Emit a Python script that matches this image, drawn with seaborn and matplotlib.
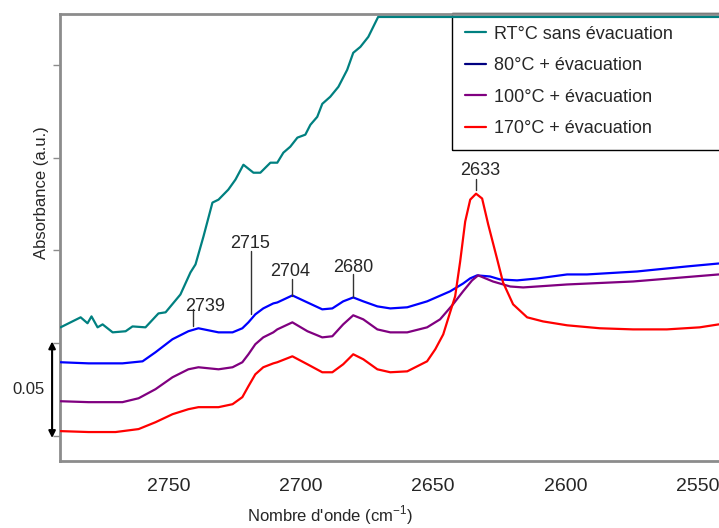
import pandas as pd
import matplotlib
matplotlib.use("Agg")
import matplotlib.pyplot as plt
import matplotlib.transforms as mtransforms
from matplotlib.lines import Line2D
import seaborn as sns

wn_rt = [2790.8, 2783.2, 2780.6, 2779.1, 2776.8, 2774.9, 2771.1, 2766.2, 2763.6, 2758.7,
         2753.8, 2751.1, 2745.5, 2741.7, 2739.8, 2736.8, 2733.4, 2731.1, 2727.4, 2724.7,
         2721.7, 2717.9, 2715.3, 2711.5, 2708.9, 2706.6, 2704.0, 2701.3, 2698.3, 2696.4,
         2693.8, 2691.9, 2688.9, 2685.8, 2682.5, 2680.2, 2677.5, 2674.5, 2670.8, 2542.1]
abs_rt = [0.0586, 0.0640, 0.0608, 0.0645, 0.0586, 0.0602, 0.0559, 0.0565, 0.0591, 0.0586,
          0.0661, 0.0667, 0.0763, 0.0882, 0.0925, 0.1075, 0.1258, 0.1274, 0.1328, 0.1382,
          0.1462, 0.1419, 0.1419, 0.1473, 0.1473, 0.1527, 0.1559, 0.1608, 0.1624, 0.1677,
          0.1720, 0.1790, 0.1828, 0.1882, 0.1973, 0.2065, 0.2097, 0.2151, 0.2258, 0.2258]

wn_80 = [2790.8, 2780.2, 2767.4, 2759.8, 2754.9, 2748.5, 2742.5, 2738.7, 2734.9, 2731.1,
         2725.8, 2722.1, 2719.8, 2717.2, 2714.2, 2710.4, 2708.9, 2703.2, 2697.5, 2691.9,
         2688.1, 2684.0, 2680.2, 2676.4, 2671.1, 2666.2, 2659.8, 2652.3, 2643.6, 2638.7,
         2636.0, 2633.4, 2628.5, 2624.7, 2618.3, 2610.8, 2599.4, 2591.9, 2573.0, 2554.2, 2542.1]
abs_80 = [0.0398, 0.0392, 0.0392, 0.0403, 0.0452, 0.0522, 0.0565, 0.0581, 0.0570, 0.0559,
          0.0559, 0.0581, 0.0613, 0.0656, 0.0688, 0.0715, 0.0720, 0.0758, 0.0720, 0.0683,
          0.0688, 0.0726, 0.0747, 0.0726, 0.0699, 0.0688, 0.0694, 0.0726, 0.0780, 0.0822,
          0.0850, 0.0866, 0.0860, 0.0844, 0.0839, 0.0849, 0.0871, 0.0871, 0.0887, 0.0914, 0.0930]

wn_100 = [2790.8, 2780.2, 2767.4, 2761.3, 2754.9, 2748.5, 2742.5, 2738.7, 2731.1, 2725.8,
          2722.1, 2719.8, 2717.2, 2714.2, 2710.4, 2708.9, 2703.2, 2697.5, 2691.9, 2688.1,
          2684.0, 2680.2, 2676.4, 2671.1, 2666.2, 2659.8, 2652.3, 2647.4, 2642.5, 2638.7,
          2635.3, 2633.0, 2627.4, 2620.9, 2616.0, 2599.4, 2574.5, 2542.1]
abs_100 = [0.0188, 0.0183, 0.0183, 0.0204, 0.0253, 0.0317, 0.0360, 0.0371, 0.0360, 0.0371,
           0.0398, 0.0441, 0.0495, 0.0532, 0.0559, 0.0575, 0.0613, 0.0565, 0.0532, 0.0538,
           0.0602, 0.0651, 0.0629, 0.0575, 0.0559, 0.0559, 0.0586, 0.0629, 0.0710, 0.0780,
           0.0839, 0.0866, 0.0833, 0.0806, 0.0801, 0.0817, 0.0833, 0.0871]

wn_170 = [2790.8, 2780.2, 2770.0, 2761.3, 2754.9, 2748.5, 2742.5, 2738.7, 2731.1, 2725.8,
          2722.1, 2719.8, 2717.2, 2714.2, 2710.4, 2708.9, 2703.2, 2697.5, 2691.9, 2688.1,
          2684.0, 2680.2, 2676.4, 2671.1, 2666.2, 2659.8, 2652.3, 2649.2, 2646.2, 2643.6,
          2641.7, 2639.8, 2637.9, 2636.0, 2633.8, 2631.5, 2629.2, 2625.8, 2623.6, 2619.8,
          2614.5, 2608.5, 2599.4, 2587.0, 2574.5, 2561.7, 2549.3, 2542.1]
abs_170 = [0.0027, 0.0022, 0.0022, 0.0038, 0.0075, 0.0118, 0.0145, 0.0156, 0.0156, 0.0172,
           0.0210, 0.0269, 0.0333, 0.0371, 0.0392, 0.0398, 0.0430, 0.0387, 0.0344, 0.0344,
           0.0387, 0.0441, 0.0414, 0.0360, 0.0344, 0.0349, 0.0403, 0.0468, 0.0548, 0.0667,
           0.0753, 0.0941, 0.1156, 0.1274, 0.1306, 0.1280, 0.1140, 0.0952, 0.0828, 0.0710,
           0.0640, 0.0618, 0.0597, 0.0581, 0.0575, 0.0575, 0.0586, 0.0602]

series_names = ["RT°C sans évacuation", "80°C + évacuation", "100°C + évacuation", "170°C + évacuation"]
line_colors = ["#008080", "#0000ff", "#800080", "#ff0000"]
legend_colors = ["#008080", "#000080", "#800080", "#ff0000"]

# bandes annotées : texte, position du trait, bas/haut du trait, position du texte
peak_labels = ["2739", "2715", "2704", "2680", "2633"]
peak_line_wn = [2740.6, 2718.7, 2703.2, 2680.2, 2633.8]
peak_line_lo = [0.0591, 0.0656, 0.0753, 0.0747, 0.1328]
peak_line_hi = [0.0683, 0.0995, 0.0844, 0.0871, 0.1387]
peak_text_wn = [2736.0, 2719.1, 2704.0, 2680.2, 2632.3]
peak_text_y = [0.0672, 0.1011, 0.0860, 0.0882, 0.1409]

# --- Mise en forme ---
sns.set_theme(style="white")
plt.rcParams['font.family'] = ['Liberation Sans', 'DejaVu Sans']
plt.rcParams['mathtext.fontset'] = 'custom'
plt.rcParams['mathtext.rm'] = 'Liberation Sans'

frames = []
for name, wn, ab in zip(series_names, [wn_rt, wn_80, wn_100, wn_170], [abs_rt, abs_80, abs_100, abs_170]):
    frames.append(pd.DataFrame({"wn": wn, "absorbance": ab, "serie": name}))
df = pd.concat(frames, ignore_index=True)

fig = plt.figure(figsize=(7.19, 5.28), dpi=100)
ax = fig.add_axes([60 / 719, 67 / 528, 659 / 719, 447 / 528])

sns.lineplot(data=df, x="wn", y="absorbance", hue="serie", palette=line_colors,
             estimator=None, sort=False, linewidth=1.6, legend=False, ax=ax, zorder=3)

ax.set_xlim(2791, 2542)
ax.set_ylim(-0.0134, 0.2274)

# spines gris, pas de bord droit
for side in ["left", "bottom", "top"]:
    ax.spines[side].set_color("#8c8c8c")
    ax.spines[side].set_linewidth(2)
ax.spines["right"].set_visible(False)

ax.set_xticks([2750, 2700, 2650, 2600, 2550])
ax.set_yticks([0, 0.05, 0.10, 0.15, 0.20])
ax.set_yticklabels([])
ax.tick_params(axis="x", direction="out", length=4, width=1, color="#8c8c8c", labelsize=14, pad=8)
ax.tick_params(axis="y", direction="out", length=5, width=1, color="#8c8c8c", left=True)

ax.set_xlabel(r"Nombre d'onde (cm$^{\mathregular{-1}}$)", fontsize=12)
ax.xaxis.set_label_coords(0.41, -0.095)
ax.set_ylabel("Absorbance (a.u.)", fontsize=12)
ax.yaxis.set_label_coords(-0.016, 0.60)

# annotations des bandes
for lab, lx, lo, hi, tx, ty in zip(peak_labels, peak_line_wn, peak_line_lo, peak_line_hi,
                                   peak_text_wn, peak_text_y):
    ax.plot([lx, lx], [lo, hi], color="#333333", lw=1, zorder=4)
    ax.text(tx, ty, lab, ha="center", va="baseline", fontsize=13, zorder=4)

# barre d'échelle 0.05
trans = mtransforms.blended_transform_factory(ax.transAxes, ax.transData)
ax.annotate("", xy=(-0.012, -0.001), xytext=(-0.012, 0.051), xycoords=trans, textcoords=trans,
            arrowprops=dict(arrowstyle="<|-|>", color="black", lw=1.5,
                            mutation_scale=10, shrinkA=0, shrinkB=0),
            annotation_clip=False)
ax.text(-0.048, 0.025, "0.05", transform=trans, ha="center", va="center", fontsize=12)

# légende
handles = [Line2D([0], [0], color=c, lw=1.6) for c in legend_colors]
leg = ax.legend(handles, series_names, loc="upper left",
                bbox_to_anchor=(452 / 719, 1 - 142 / 528, 0.5, 129 / 528),
                bbox_transform=fig.transFigure, mode="expand",
                fontsize=13, frameon=True, fancybox=False, edgecolor="black",
                facecolor="none", framealpha=1, handlelength=1.2, handletextpad=0.45,
                labelspacing=0.8, borderpad=0.7, borderaxespad=0)
leg.get_frame().set_linewidth(1)
leg.set_zorder(2)

fig.savefig("out.png", dpi=100)
